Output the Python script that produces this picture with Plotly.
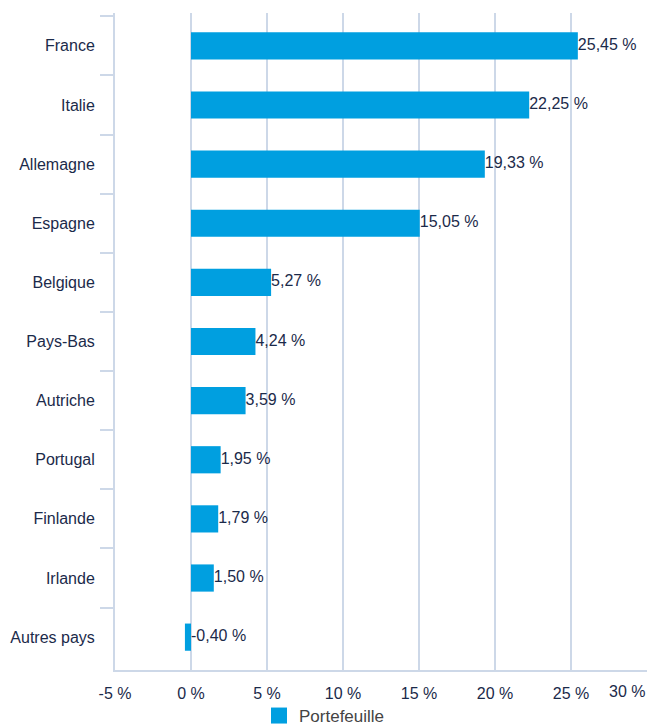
import plotly.graph_objects as go

categories = ["France", "Italie", "Allemagne", "Espagne", "Belgique", "Pays-Bas",
              "Autriche", "Portugal", "Finlande", "Irlande", "Autres pays"]
values = [25.45, 22.25, 19.33, 15.05, 5.27, 4.24, 3.59, 1.95, 1.79, 1.50, -0.40]
tick_vals = [-5, 0, 5, 10, 15, 20, 25, 30]
tick_text = ["-5 %", "0 %", "5 %", "10 %", "15 %", "20 %", "25 %", ""]
last_tick = "30 %"
series_name = "Portefeuille"

def fmt(v):
    return ("%.2f" % v).replace(".", ",") + " %"

navy = "#1b2a4a"
grid = "#cdd8e8"
blue = "#009fe0"

fig = go.Figure()
fig.add_trace(go.Bar(
    y=categories, x=values, orientation="h", name=series_name, showlegend=False,
    marker=dict(color=blue, line=dict(width=0)), width=0.46,
))
fig.add_trace(go.Scatter(
    y=categories, x=[max(v, 0) for v in values], mode="text",
    text=[fmt(v) for v in values], textposition="middle right",
    textfont=dict(size=16, color=navy), showlegend=False, cliponaxis=False,
    hoverinfo="skip",
))
# legend entry (square swatch)
fig.add_trace(go.Scatter(
    x=[None], y=[None], mode="markers", name=series_name,
    marker=dict(symbol="square", size=18, color=blue), showlegend=True,
))
fig.add_annotation(x=30, y=0, xref="x", yref="paper", yanchor="top", xanchor="right",
                   yshift=-11, text=last_tick, showarrow=False,
                   font=dict(size=16, color=navy))

fig.update_layout(
    width=649, height=726,
    margin=dict(l=115, r=2, t=13, b=56, autoexpand=False),
    plot_bgcolor="white", paper_bgcolor="white",
    font=dict(family="Liberation Sans, Arial, sans-serif", size=16, color=navy),
    showlegend=True,
    legend=dict(orientation="h", xref="container", x=0.5, xanchor="center",
                yref="paper", y=-0.07, yanchor="middle", bgcolor="rgba(0,0,0,0)",
                itemsizing="trace", font=dict(size=17, color="#444444")),
    xaxis=dict(range=[-5, 30], tickvals=tick_vals, ticktext=tick_text,
               showgrid=True, gridcolor=grid, gridwidth=1.5, zeroline=False,
               showline=True, linecolor=grid, linewidth=2, ticks="", ticklabelstandoff=8,
               automargin=False, fixedrange=True),
    yaxis=dict(autorange="reversed", showline=True, linecolor=grid, linewidth=2,
               ticks="outside", tickson="boundaries", ticklen=13, tickcolor=grid,
               tickwidth=2, showgrid=False, zeroline=False, automargin=False,
               ticklabelstandoff=15, fixedrange=True),
)

fig.write_html("out.html", config={"displayModeBar": False},
               post_script="document.body.style.margin='0';document.body.style.overflow='hidden';")
